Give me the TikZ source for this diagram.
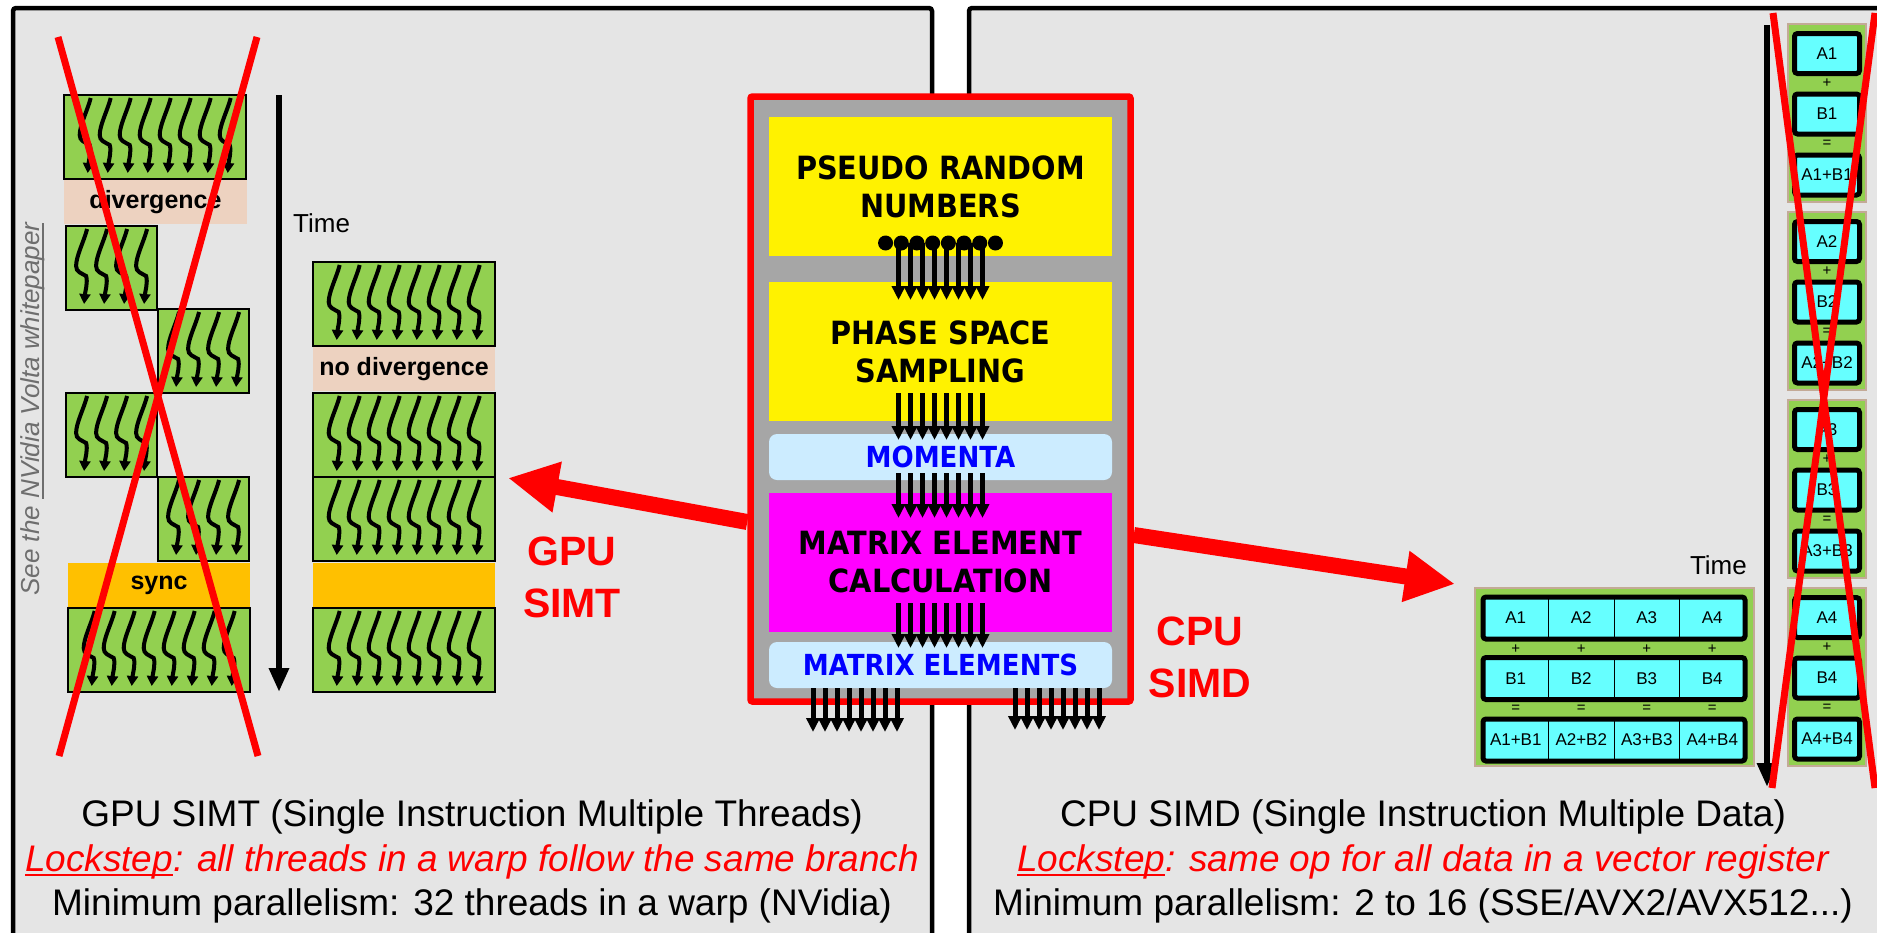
\documentclass[tikz,border=0pt]{standalone}
\usepackage{fontspec}
\setmainfont{Liberation Sans}
\newfontfamily\stagefont[FakeStretch=0.9]{DejaVu Sans}
\usetikzlibrary{positioning,arrows.meta}

\definecolor{panelgray}{HTML}{E5E5E5}
\definecolor{coregray}{HTML}{A6A6A6}
\definecolor{warpgreen}{HTML}{92D050}
\definecolor{peach}{HTML}{EDD2C0}
\definecolor{amber}{HTML}{FFC000}
\definecolor{paleblue}{HTML}{CCECFF}
\definecolor{hotpink}{HTML}{FF00FF}
\definecolor{cellcyan}{HTML}{66FFFF}
\definecolor{grpedge}{HTML}{C3AA96}
\definecolor{linkgray}{HTML}{6E6E6E}

\newcommand{\lineunder}[2]{\setbox0\hbox{#2}\rlap{\rule[-#1]{\wd0}{2.2pt}}\box0}

\tikzset{
  panel/.style={draw, line width=4.5pt, fill=panelgray, rounded corners=3pt},
  warp/.style={draw, line width=2pt, fill=warpgreen, anchor=north west,
    minimum height=84pt, inner sep=0pt, outer sep=0pt},
  band/.style={anchor=north west, minimum width=183pt, minimum height=44pt,
    inner sep=0pt, outer sep=0pt, font=\bfseries\fontsize{25}{30}\selectfont},
  squig/.pic={\draw[line width=4pt, -{Triangle[length=10pt,width=11pt]}]
    (3,3) .. controls (0,15) and (-8,30) .. (-8,40)
    .. controls (-8,46) and (-3,47) .. (2,50)
    .. controls (4,56) and (1,66) .. (0,78);},
  timeline/.style={line width=6.5pt, -{Triangle[length=24pt,width=19pt]}},
  timelabel/.style={inner sep=0pt, font=\fontsize{26}{30}\selectfont},
  cross/.style={red, line width=7pt},
  pipeline/.style={draw=red, line width=6.5pt, fill=coregray, rounded corners=2pt,
    minimum width=380pt, minimum height=605pt, inner sep=0pt},
  stage/.style={fill=yellow, minimum width=343pt, minimum height=139pt,
    inner sep=0pt, outer sep=0pt, align=center,
    font=\stagefont\bfseries\fontsize{32}{38}\selectfont},
  datatag/.style={fill=paleblue, rounded corners=8pt, minimum width=343pt,
    minimum height=46pt, inner sep=0pt, outer sep=0pt, text=blue,
    font=\stagefont\bfseries\fontsize{29}{34}\selectfont},
  flow/.style={line width=5pt, -{Triangle[length=14pt,width=13pt]}},
  bigarrow/.style={red, line width=16pt, -{Triangle[length=50pt,width=48pt]}},
  simlabel/.style={text=red, align=center, inner sep=0pt,
    font=\bfseries\fontsize{41}{52}\selectfont},
  caption/.style={anchor=base, inner sep=0pt, font=\fontsize{37}{44}\selectfont},
  lockstep/.style={caption, text=red, font=\itshape\fontsize{37}{44}\selectfont},
  vgroup/.style={fill=warpgreen, draw=grpedge, line width=1.2pt,
    minimum width=78pt, minimum height=178pt, inner sep=0pt},
  cell/.style={draw, line width=5pt, fill=cellcyan, rounded corners=3pt,
    minimum width=65pt, minimum height=40pt, inner sep=0pt,
    font=\fontsize{17}{20}\selectfont},
  hcell/.style={draw, line width=1pt, fill=cellcyan, minimum width=65.5pt,
    minimum height=42pt, inner sep=0pt, outer sep=0pt,
    font=\fontsize{17}{20}\selectfont},
  op/.style={inner sep=0pt, font=\fontsize{15}{18}\selectfont}
}

\begin{document}
\begin{tikzpicture}[x=1pt, y=-1pt]
 \useasboundingbox (0,0) rectangle (1877,932);
 % the two panels
 \draw[panel] (13,8) rectangle (932,960);
 \draw[panel] (969,8) rectangle (1900,960);

 % GPU SIMT: warps of threads
 \foreach \nm/\px/\py/\cnt in {w1/64/95/8, w2/66/226/4, w3/158/309/4, w4/66/393/4,
   w5/158/477/4, w6/68/608/8, r1/313/262/8, r2/313/393/8, r3/313/477/8, r4/313/608/8} {
  \node[warp, minimum width=\cnt*22.8pt] (\nm) at (\px,\py) {};
  \foreach \i in {1,...,\cnt}
   \pic at ([xshift={2.5pt+(\i-(\cnt+1)/2)*20pt}]\nm.north) {squig};
 }
 \node[band, fill=peach] (div) at (64,180) {divergence};
 \node[band, fill=amber, minimum width=182pt] (sync) at (68,563) {sync};
 \node[band, fill=peach, minimum width=182pt] (nodiv) at (313,347) {no divergence};
 \node[band, fill=amber, minimum width=182pt] (hold) at (313,563) {};

 \coordinate (t0) at (279,95);
 \coordinate (t1) at (279,692);
 \draw[timeline] (t0) -- (t1);
 \node[timelabel, anchor=west] (tl) at (293,223) {Time};

 \node[rotate=90, text=linkgray, font=\itshape\fontsize{26}{30}\selectfont] (see)
  at (33,409) {See the \lineunder{4pt}{NVidia Volta whitepaper}};

 \coordinate (xa) at (58,37);
 \coordinate (xb) at (258,756);
 \coordinate (xc) at (257,37);
 \coordinate (xd) at (59,756);
 \draw[cross] (xa) -- (xb) (xc) -- (xd);

 % the pipeline
 \node[pipeline] (pipe) at (940.5,399) {};
 \node[stage] (prn) at (940.5,186.5) {PSEUDO RANDOM\\NUMBERS};
 \node[stage, below=26pt of prn] (pss) {PHASE SPACE\\SAMPLING};
 \node[datatag, below=13pt of pss] (mom) {MOMENTA};
 \node[stage, fill=hotpink, below=13pt of mom] (mec) {MATRIX ELEMENT\\CALCULATION};
 \node[datatag, below=10pt of mec] (mel) {MATRIX ELEMENTS};

 \coordinate (src) at ([yshift=13pt]prn.south);
 \coordinate (outL) at (855,732);
 \coordinate (outR) at (1057,730);
 \foreach \k in {-3.5,-2.5,...,3.5} {
  \draw[flow] ([xshift=\k*12pt]src) -- ([xshift=\k*12pt,yshift=-18pt]pss.north);
  \draw[flow] ([xshift=\k*12pt,yshift=28pt]pss.south) -- ([xshift=\k*12pt,yshift=-6pt]mom.north);
  \draw[flow] ([xshift=\k*12pt,yshift=7pt]mom.south) -- ([xshift=\k*12pt,yshift=-25pt]mec.north);
  \draw[flow] ([xshift=\k*12pt,yshift=29pt]mec.south) -- ([xshift=\k*12pt,yshift=-6pt]mel.north);
  \draw[flow] ([xshift={\k*12pt-85.5pt}]mel.south) -- ([xshift=\k*12pt]outL);
  \draw[flow] ([xshift={\k*12pt+116.5pt}]mel.south) -- ([xshift=\k*12pt]outR);
 }
 \foreach \k in {-3.5,-2.5,...,3.5}
  \fill ([xshift=\k*15.7pt]src) circle (7.5pt);

 \coordinate (gpuTip) at (508,478);
 \coordinate (cpuTip) at (1455,584);
 \draw[bigarrow] ([yshift=-123pt]pipe.west) -- (gpuTip);
 \draw[bigarrow] ([yshift=-136pt]pipe.east) -- (cpuTip);
 \node[simlabel] (gpulbl) at (572,577) {GPU\\SIMT};
 \node[simlabel] (cpulbl) at (1200,657) {CPU\\SIMD};

 % CPU SIMD: vector registers
 \coordinate (u0) at (1767,25);
 \coordinate (u1) at (1767,787);
 \draw[timeline] (u0) -- (u1);
 \node[timelabel, anchor=east] (ul) at (1747,565) {Time};

 \node[vgroup, minimum width=279pt] (vec) at (1614.5,677) {};
 \foreach \c in {1,...,4} {
  \node[hcell] (ha\c) at ({1515.75+(\c-1)*65.5},618) {A\c};
  \node[op] at ({1515.75+(\c-1)*65.5},649) {+};
  \node[hcell] (hb\c) at ({1515.75+(\c-1)*65.5},678.5) {B\c};
  \node[op] at ({1515.75+(\c-1)*65.5},709) {=};
  \node[hcell] (hs\c) at ({1515.75+(\c-1)*65.5},740) {A\c+B\c};
 }
 \foreach \r in {ha,hb,hs}
  \draw[line width=5pt, rounded corners=3pt] (\r1.north west) rectangle (\r4.south east);

 \foreach \g [count=\j] in {24,212,400,588} {
  \node[vgroup] (g\j) at (1827,\g+89) {};
  \node[cell] (ga\j) at (1827,\g+29.5) {A\j};
  \node[op] at (1827,\g+59) {+};
  \node[cell] (gb\j) at (1827,\g+90) {B\j};
  \node[op] at (1827,\g+120) {=};
  \node[cell] (gs\j) at (1827,\g+151) {A\j+B\j};
 }

 \coordinate (ya) at (1773,13);
 \coordinate (yb) at (1875,788);
 \coordinate (yc) at (1875,13);
 \coordinate (yd) at (1772,788);
 \draw[cross] (ya) -- (yb) (yc) -- (yd);

 % captions
 \node[caption] (gc1) at (472,826) {GPU SIMT (Single Instruction Multiple Threads)};
 \node[lockstep] (gc2) at (472,871) {\lineunder{5pt}{Lockstep}: all threads in a warp follow the same branch};
 \node[caption] (gc3) at (472,915) {Minimum parallelism: 32 threads in a warp (NVidia)};
 \node[caption] (cc1) at (1423,826) {CPU SIMD (Single Instruction Multiple Data)};
 \node[lockstep] (cc2) at (1423,871) {\lineunder{5pt}{Lockstep}: same op for all data in a vector register};
 \node[caption] (cc3) at (1423,915) {Minimum parallelism: 2 to 16 (SSE/AVX2/AVX512...)};
\end{tikzpicture}
\end{document}
